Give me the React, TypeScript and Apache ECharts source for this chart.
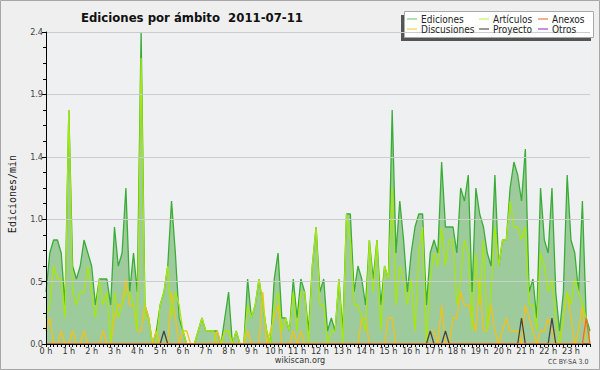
import React, { useEffect, useRef } from "react";
import * as echarts from "echarts";

const hourLabels = ["0 h","1 h","2 h","3 h","4 h","5 h","6 h","7 h","8 h","9 h","10 h","11 h","12 h","13 h","14 h","15 h","16 h","17 h","18 h","19 h","20 h","21 h","22 h","23 h"];
const minuteMarks = ["00","10","20","30","40","50"];

// Ediciones (total), one value per 10 minutes
const ediciones = [
  0.4,0.7,0.8,0.8,0.7,0.3, 1.8,0.6,0.5,0.6,0.8,0.7, 0.6,0.3,0.5,0.5,0.5,0.3, 0.9,0.6,0.7,1.2,0.4,0.7,
  0.4,2.4,0.3,0.2,0.0,0.1, 0.3,0.4,0.6,1.1,0.7,0.2, 0.1,0.0,0.0,0.0,0.1,0.2, 0.1,0.1,0.1,0.1,0.0,0.2,
  0.4,0.0,0.1,0.0,0.0,0.5, 0.2,0.3,0.5,0.3,0.1,0.0, 0.5,0.7,0.2,0.2,0.1,0.5, 0.2,0.5,0.4,0.1,0.6,0.9,
  0.4,0.5,0.1,0.2,0.1,0.5, 0.1,1.0,1.0,0.4,0.6,0.5, 0.3,0.8,0.5,0.8,0.3,0.6, 0.5,1.8,0.7,1.1,0.8,0.4,
  0.7,0.9,1.0,1.0,0.3,0.7, 0.8,0.7,1.4,0.9,0.9,0.9, 0.7,1.2,1.1,1.3,0.4,1.2, 1.0,0.9,0.7,0.6,1.3,0.6,
  0.8,0.8,1.2,1.4,1.3,1.1, 1.5,0.4,0.5,0.2,1.2,0.8, 0.7,1.2,0.4,0.1,0.4,1.3, 0.8,0.7,0.4,1.1,0.2,0.1
];
const articulos = [
  0.2,0.3,0.6,0.5,0.5,0.2, 1.8,0.4,0.3,0.4,0.4,0.6, 0.4,0.2,0.5,0.3,0.4,0.0, 0.4,0.2,0.3,0.4,0.4,0.3,
  0.1,2.2,0.2,0.2,0.0,0.0, 0.3,0.4,0.6,0.2,0.4,0.3, 0.1,0.0,0.0,0.0,0.1,0.2, 0.1,0.1,0.1,0.0,0.0,0.1,
  0.1,0.0,0.1,0.0,0.0,0.3, 0.2,0.3,0.5,0.3,0.1,0.0, 0.3,0.4,0.1,0.2,0.1,0.4, 0.1,0.4,0.4,0.0,0.6,0.9,
  0.3,0.3,0.0,0.1,0.1,0.5, 0.0,1.0,0.8,0.3,0.3,0.2, 0.1,0.8,0.4,0.8,0.1,0.6, 0.5,1.2,0.3,0.6,0.5,0.3,
  0.5,0.1,0.7,0.9,0.0,0.5, 0.7,0.6,0.9,0.6,0.8,0.8, 0.3,0.5,0.8,0.7,0.1,0.7, 0.3,0.8,0.1,0.4,0.9,0.6,
  0.8,0.8,1.1,0.9,0.9,0.8, 0.9,0.3,0.3,0.1,0.7,0.6, 0.4,0.5,0.2,0.0,0.2,0.4, 0.3,0.5,0.4,0.3,0.2,0.0
];
const discusiones = [
  0.1,0.2,0.0,0.0,0.1,0.0, 0.0,0.1,0.0,0.0,0.1,0.0, 0.0,0.0,0.0,0.1,0.0,0.0, 0.2,0.3,0.3,0.5,0.3,0.3,
  0.1,0.1,0.3,0.2,0.0,0.1, 0.0,0.0,0.0,0.4,0.2,0.0, 0.1,0.1,0.0,0.0,0.0,0.0, 0.0,0.0,0.0,0.1,0.0,0.1,
  0.1,0.0,0.0,0.0,0.0,0.1, 0.0,0.0,0.0,0.4,0.0,0.1, 0.2,0.3,0.0,0.0,0.0,0.1, 0.0,0.1,0.0,0.0,0.0,0.0,
  0.0,0.0,0.0,0.0,0.0,0.0, 0.0,0.0,0.0,0.0,0.0,0.2, 0.2,0.0,0.0,0.0,0.0,0.0, 0.2,0.2,0.0,0.0,0.0,0.0,
  0.0,0.0,0.0,0.0,0.0,0.1, 0.1,0.0,0.3,0.0,0.0,0.2, 0.2,0.4,0.3,0.3,0.2,0.1, 0.5,0.1,0.1,0.3,0.1,0.0,
  0.1,0.2,0.1,0.1,0.1,0.0, 0.3,0.2,0.1,0.0,0.1,0.1, 0.2,0.1,0.0,0.0,0.2,0.4, 0.2,0.0,0.1,0.3,0.0,0.0
];
const anexos = [
  0,0,0,0,0,0, 0,0,0,0,0,0, 0,0,0,0,0,0, 0,0,0,0,0,0,
  0,0,0,0,0,0, 0,0,0,0,0,0, 0,0,0,0,0,0, 0,0,0,0,0,0,
  0,0,0,0,0,0, 0,0,0,0,0,0, 0,0,0,0,0,0, 0,0,0,0,0,0,
  0,0,0,0,0,0, 0,0,0,0,0,0, 0,0,0,0,0,0, 0,0,0,0,0,0,
  0,0,0,0,0,0, 0,0,0,0,0,0, 0,0,0,0,0,0, 0,0,0,0,0,0,
  0,0,0,0,0,0, 0,0,0,0,0,0, 0,0,0,0,0,0, 0,0,0,0,0.2,0
];
const proyecto = [
  0,0,0,0,0,0, 0,0,0,0,0,0, 0,0,0,0,0,0, 0,0,0,0,0,0,
  0,0,0,0,0,0, 0,0.1,0,0,0,0, 0,0,0,0,0,0, 0,0,0,0,0,0,
  0,0,0,0,0,0, 0,0,0,0,0,0, 0,0,0,0,0,0, 0,0,0,0,0,0,
  0,0,0,0,0,0, 0,0,0,0,0,0, 0,0,0,0,0,0, 0,0,0,0,0,0,
  0,0,0,0,0,0.1, 0,0,0,0.1,0,0, 0,0,0,0,0,0, 0,0,0,0,0,0,
  0,0,0,0,0,0.2, 0,0,0,0,0,0, 0,0.2,0,0,0,0, 0,0,0,0,0,0
];
const otros: number[] = [];

const seriesNames = ["Ediciones", "Artículos", "Anexos", "Discusiones", "Proyecto", "Otros"];
const seriesColors: Record<string, string> = {
  "Ediciones": "#3aad37",
  "Artículos": "#a6e80e",
  "Anexos": "#ee6a2c",
  "Discusiones": "#f2c21a",
  "Proyecto": "#444444",
  "Otros": "#9a3ee8",
};
const legendColors: Record<string, string> = {
  "Ediciones": "#7fcf80",
  "Artículos": "#c8f060",
  "Anexos": "#ee7a44",
  "Discusiones": "#f6d048",
  "Proyecto": "#555555",
  "Otros": "#9a44e8",
};

const condensed = "'DejaVu Sans Condensed', 'Liberation Sans Narrow', 'Liberation Sans', sans-serif";

export default function App() {
  const ref = useRef<HTMLDivElement>(null);
  useEffect(() => {
    if (!ref.current) return;
    const chart = echarts.init(ref.current, undefined, { renderer: "svg" });
    const categories = hourLabels.flatMap((h) => minuteMarks.map((m) => h + m));
    const legendPos = [
      { left: 407, top: 14 }, { left: 479, top: 14 }, { left: 538, top: 14 },
      { left: 407, top: 24 }, { left: 479, top: 24 }, { left: 538, top: 24 },
    ];
    const lineSeries = (name: string, data: number[], z: number) => ({
      name, type: "line", data, symbol: "none", z,
      lineStyle: { color: seriesColors[name], width: 1.3 },
      itemStyle: { color: seriesColors[name] },
    });
    chart.setOption({
      animation: false,
      backgroundColor: "#efefef",
      title: {
        text: "Ediciones por ámbito  2011-07-11",
        left: 76, top: 6,
        textStyle: { fontFamily: condensed, fontWeight: "bold", fontSize: 13, color: "#111" },
      },
      legend: seriesNames.map((n, i) => ({
        data: [{ name: n, itemStyle: { color: legendColors[n] } }],
        left: legendPos[i].left, top: legendPos[i].top,
        icon: "rect", itemWidth: 10, itemHeight: 1.2, itemGap: 0,
        padding: 0,
        textStyle: { fontFamily: condensed, fontSize: 10, lineHeight: 9.5, color: "#222", padding: [0, 0, 0, -1] },
        z: 10,
      })),
      graphic: [
        { type: "rect", shape: { x: 0.5, y: 0.5, width: 599, height: 369 }, style: { fill: "none", stroke: "#a6a6a6", lineWidth: 1 }, z: 100 },
        { type: "rect", shape: { x: 401, y: 15, width: 190, height: 26 }, style: { fill: "#555" }, z: 1 },
        { type: "rect", shape: { x: 404.5, y: 11.5, width: 189, height: 26 }, style: { fill: "#ffffff", stroke: "#aaaaaa", lineWidth: 1 }, z: 2 },
        { type: "text", left: "center", top: 355, style: { text: "wikiscan.org", fontSize: 9, fontFamily: condensed, fill: "#333" } },
        { type: "text", left: 548, top: 358, style: { text: "CC BY-SA 3.0", fontSize: 7, fontFamily: condensed, fill: "#444" } },
        {
          type: "text", x: 12, y: 194, rotation: Math.PI / 2,
          style: { text: "Ediciones/min", fontSize: 10, fontFamily: "'DejaVu Sans Mono', monospace", fill: "#222", align: "center", verticalAlign: "middle" },
        },
      ],
      grid: { left: 46, right: 10, top: 32, bottom: 26, show: true, backgroundColor: "#eff0f2", borderWidth: 0 },
      xAxis: {
        type: "category", data: categories, boundaryGap: false, z: 10,
        axisLine: { lineStyle: { color: "#000", width: 1 } },
        axisTick: { show: true, interval: 0, length: 3, lineStyle: { color: "#000" } },
        axisLabel: {
          interval: 5, margin: 2, fontSize: 9, color: "#333", fontFamily: condensed,
          formatter: (_v: string, i: number) => hourLabels[Math.floor(i / 6)],
        },
        splitLine: { show: false },
      },
      yAxis: {
        type: "value", min: 0, max: 2.4, interval: 0.48, z: 10,
        axisLine: { show: true, lineStyle: { color: "#000", width: 1 } },
        axisTick: { show: true, length: 4, lineStyle: { color: "#000" } },
        minorTick: { show: true, splitNumber: 4, length: 3, lineStyle: { color: "#000" } },
        axisLabel: { margin: 3, fontSize: 9, color: "#444", fontFamily: condensed, formatter: (v: number) => v.toFixed(1) },
        splitLine: { show: true, lineStyle: { color: "#cccccc", width: 1 } },
      },
      series: [
        {
          ...lineSeries("Ediciones", ediciones, 2),
          areaStyle: { color: "#9ecb9c", opacity: 1 },
        },
        lineSeries("Discusiones", discusiones, 3),
        lineSeries("Artículos", articulos, 4),
        lineSeries("Proyecto", proyecto, 5),
        lineSeries("Anexos", anexos, 6),
        lineSeries("Otros", otros, 7),
      ],
    });
    return () => chart.dispose();
  }, []);
  return <div ref={ref} style={{ position: "fixed", left: 0, top: 0, width: 600, height: 370 }} />;
}
